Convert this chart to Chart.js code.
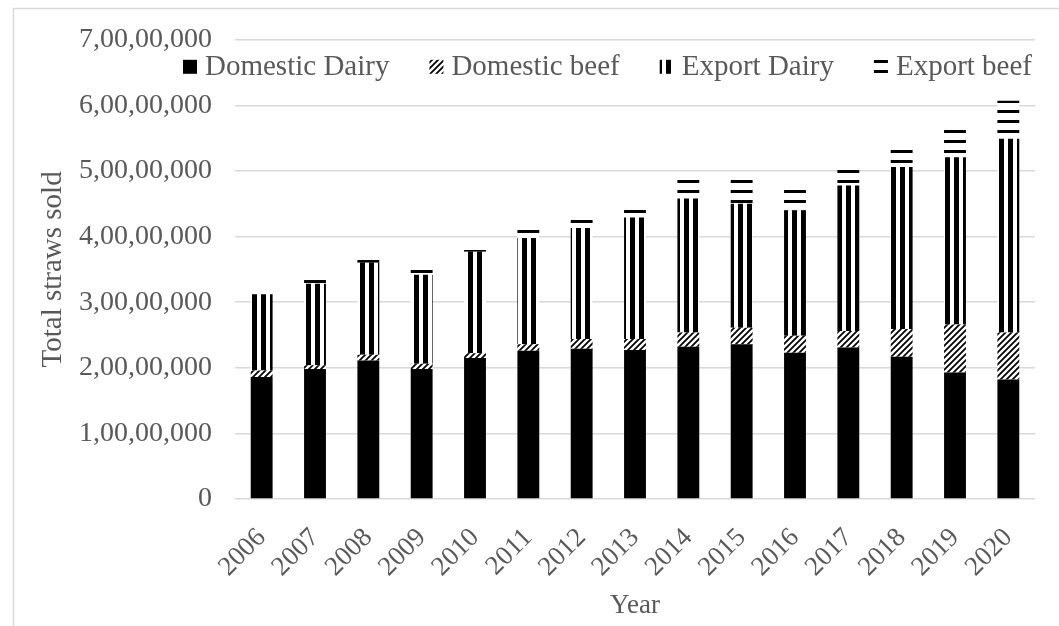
<!DOCTYPE html>
<html>
<head>
<meta charset="utf-8">
<title>Total straws sold</title>
<script src="https://cdn.jsdelivr.net/npm/chart.js@4.4.1/dist/chart.umd.min.js"></script>
<style>
  html, body { margin: 0; padding: 0; background: #fff; }
  #chart-wrap { width: 1059px; height: 626px; }
  canvas { display: block; }
</style>
</head>
<body>
<div id="chart-wrap"><canvas id="strawChart" width="1059" height="626"></canvas></div>
<script>
// straws sold per year, split by market and type
const years = ['2006', '2007', '2008', '2009', '2010', '2011', '2012', '2013', '2014', '2015', '2016', '2017', '2018', '2019', '2020'];
const domesticDairy = [18600000, 19800000, 21100000, 19800000, 21500000, 22600000, 22900000, 22700000, 23200000, 23600000, 22300000, 23100000, 21700000, 19300000, 18200000];
const domesticBeef = [1000000, 600000, 900000, 800000, 700000, 1000000, 1500000, 1700000, 2200000, 2500000, 2600000, 2500000, 4200000, 7300000, 7200000];
const exportDairy = [11600000, 12400000, 14000000, 13600000, 15500000, 16200000, 16900000, 18500000, 20400000, 18900000, 19100000, 22200000, 24700000, 25500000, 29500000];
const exportBeef = [200000, 1000000, 1100000, 1100000, 900000, 1500000, 1600000, 1500000, 3100000, 3800000, 3400000, 2500000, 2700000, 4200000, 5800000];

// y axis ticks, 0 to 7 crore
const yTicks = [0, 10000000, 20000000, 30000000, 40000000, 50000000, 60000000, 70000000];

const SERIF = "'Liberation Serif', 'Times New Roman', serif";
const TEXT_GREY = '#595959';
const GRID_GREY = '#d9d9d9';

// 7,00,00,000 style grouping (lakh / crore)
function formatIndian(n) {
    const s = String(Math.round(n));
    if (s.length <= 3) return s;
    const last3 = s.slice(-3);
    const rest = s.slice(0, -3).replace(/\B(?=(\d{2})+(?!\d))/g, ',');
    return rest + ',' + last3;
}

// --- pattern fills (black on white, like the print-friendly Excel patterns) ---
function makeTile(w, h, drawFn) {
    const c = document.createElement('canvas');
    c.width = w;
    c.height = h;
    const g = c.getContext('2d');
    g.fillStyle = '#fff';
    g.fillRect(0, 0, w, h);
    g.fillStyle = '#000';
    g.strokeStyle = '#000';
    drawFn(g, w, h);
    return c;
}

const ctx = document.getElementById('strawChart').getContext('2d');

const hatchTile = makeTile(6, 6, (g, w, h) => {
    g.lineWidth = 1.8;
    g.beginPath();
    g.moveTo(0, h); g.lineTo(w, 0);
    g.moveTo(-w / 2, h / 2); g.lineTo(w / 2, -h / 2);
    g.moveTo(w / 2, h * 1.5); g.lineTo(w * 1.5, h / 2);
    g.stroke();
});
const vStripeTile = makeTile(9, 9, (g, w, h) => {
    g.fillRect(0, 0, 5, h);
});
const hStripeTile = makeTile(10, 10, (g, w, h) => {
    g.fillRect(0, 0, w, 3);
});

const solidFill = '#000';
const hatchFill = ctx.createPattern(hatchTile, 'repeat');
const vStripeFill = ctx.createPattern(vStripeTile, 'repeat');
const hStripeFill = ctx.createPattern(hStripeTile, 'repeat');

// white background + thin frame on the top / left
const framePlugin = {
    id: 'frame',
    beforeDraw(chart) {
        const c = chart.ctx;
        c.save();
        c.fillStyle = '#fff';
        c.fillRect(0, 0, chart.width, chart.height);
        c.strokeStyle = GRID_GREY;
        c.lineWidth = 1.5;
        c.beginPath();
        c.moveTo(13.5, chart.height);
        c.lineTo(13.5, 8.5);
        c.lineTo(chart.width, 8.5);
        c.stroke();
        c.restore();
    }
};

// legend row floats inside the plot, just under the top gridline
const floatingLegend = {
    id: 'floatingLegend',
    afterDraw(chart) {
        const c = chart.ctx;
        const area = chart.chartArea;
        const box = 14, gapText = 8, gapItem = 40;
        c.save();
        c.font = '29px ' + SERIF;
        c.textBaseline = 'middle';
        const items = chart.data.datasets.map(ds => ({
            label: ds.label,
            fill: ds.backgroundColor,
            w: box + gapText + c.measureText(ds.label).width
        }));
        const total = items.reduce((s, it) => s + it.w, 0) + gapItem * (items.length - 1);
        let x = area.right - 3 - total;
        const y = area.top + 27;
        items.forEach(it => {
            c.fillStyle = it.fill;
            c.fillRect(x, y - box / 2, box, box);
            c.fillStyle = TEXT_GREY;
            c.fillText(it.label, x + box + gapText, y + 1);
            x += it.w + gapItem;
        });
        c.restore();
    }
};

const chart = new Chart(ctx, {
    type: 'bar',
    data: {
        labels: years,
        datasets: [
            { label: 'Domestic Dairy', data: domesticDairy, backgroundColor: solidFill },
            { label: 'Domestic beef', data: domesticBeef, backgroundColor: hatchFill },
            { label: 'Export Dairy', data: exportDairy, backgroundColor: vStripeFill },
            { label: 'Export beef', data: exportBeef, backgroundColor: hStripeFill }
        ]
    },
    options: {
        responsive: false,
        animation: false,
        events: [],
        layout: { padding: { top: 37, right: 24, bottom: 0, left: 0 } },
        datasets: {
            bar: { categoryPercentage: 1, barPercentage: 0.41, borderWidth: 0 }
        },
        plugins: {
            legend: { display: false },
            tooltip: { enabled: false }
        },
        scales: {
            x: {
                stacked: true,
                grid: { display: false },
                border: { display: false },
                ticks: {
                    color: TEXT_GREY,
                    font: { family: SERIF, size: 27 },
                    minRotation: 45,
                    maxRotation: 45,
                    padding: 15
                },
                title: {
                    display: true,
                    text: 'Year',
                    color: TEXT_GREY,
                    font: { family: SERIF, size: 27 },
                    padding: { top: 0, bottom: 4 }
                },
                afterFit(scale) { scale.height = 127; }
            },
            y: {
                stacked: true,
                min: 0,
                max: 70000000,
                afterBuildTicks(scale) {
                    scale.ticks = yTicks.map(v => ({ value: v }));
                },
                grid: {
                    color: GRID_GREY,
                    lineWidth: 1.5,
                    drawTicks: false
                },
                border: { display: false },
                ticks: {
                    color: TEXT_GREY,
                    font: { family: SERIF, size: 28 },
                    padding: 23,
                    callback: v => formatIndian(v)
                },
                title: {
                    display: true,
                    text: 'Total straws sold',
                    color: TEXT_GREY,
                    font: { family: SERIF, size: 29 },
                    padding: { top: 36, bottom: 0 }
                },
                afterFit(scale) { scale.width = 235; }
            }
        }
    },
    plugins: [framePlugin, floatingLegend]
});
</script>
</body>
</html>
